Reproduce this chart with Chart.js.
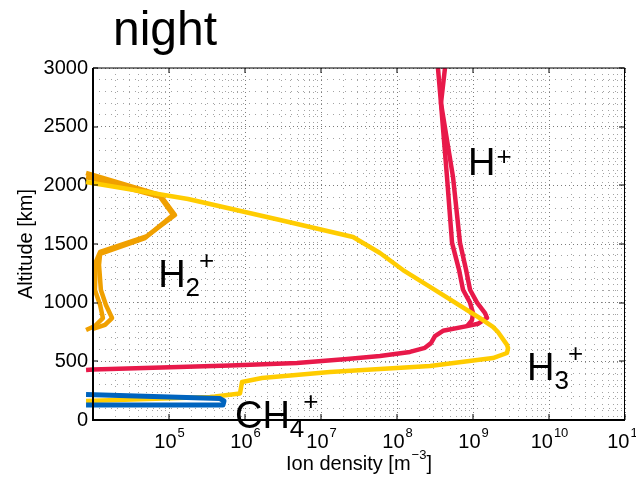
<!DOCTYPE html>
<html><head><meta charset="utf-8">
<script src="https://cdn.jsdelivr.net/npm/chart.js@4.4.0/dist/chart.umd.min.js"></script>
<style>html,body{margin:0;padding:0;background:#fff;overflow:hidden}</style>
</head><body>
<canvas id="c" width="636" height="480"></canvas>
<script>
// ---------- data (density m^-3, altitude km) ----------
const hPlusA_density = [3.46e8,3.79e8,5.46e8,6.74e8,8.1e8,9.14e8,1.13e9,1.44e9,1.53e9,1.16e9,8.34e8,4.03e8,3.16e8,2.80e8,2.33e8,1.48e8,5.97e7,2.20e7,4.83e6,6.35e5,1e4,8.1e3];
const hPlusA_alt     = [3000,2700,2070,1510,1280,1110,1000,910,870,820,800,760,715,655,615,580,545,520,485,465,430,426];
const hPlusB_density = [4.28e8,3.79e8,4.55e8,5.30e8,6.55e8,7.39e8,9.14e8,1.0e9,9.7e8,8.34e8];
const hPlusB_alt     = [3000,2700,2070,1510,1280,1110,1000,910,850,800];
const h3Plus_density = [8.1e3,3.46e5,4.03e5,8.6e5,9.14e5,1.67e6,1.31e7,2.72e8,1.83e9,2.80e9,2.89e9,2.80e9,2.13e9,1.83e9,1.35e9,2.72e8,1.20e8,5.97e7,2.64e7,2.89e6,1.78e5,8.1e3];
const h3Plus_alt     = [162,196,200,226,324,358,409,460,528,571,614,640,750,793,852,1134,1278,1423,1560,1705,1884,2028];
const h2PlusA_density = [8.1e3,7.62e4,1.20e5,5.14e4,1.24e4,1.09e4,1.06e4,1.24e4,1.35e4,1.06e4,8.1e3];
const h2PlusA_alt     = [2105,1918,1747,1568,1432,1347,1108,980,869,801,767];
const h2PlusB_density = [8.1e3,7.62e4,1.13e5,4.83e4,1.24e4,1.20e4,1.27e4,1.48e4,1.78e4,1.44e4,1e4];
const h2PlusB_alt     = [2071,1901,1747,1551,1415,1321,1108,980,869,810,776];
const ch4Plus_density = [8.1e3,4.69e5,5.3e5,5.14e5,8.1e3];
const ch4Plus_alt     = [217,183,162,128,128];

const xDecades = [4,5,6,7,8,9,10,11];
const xLabelExponents = [5,6,7,8,9,10,11];
const yLabelValues = [0,500,1000,1500,2000,2500,3000];

// ion labels: anchor in data coordinates; parts = [text, kind]
const ionLabels = [
  {x:8.6e8,  y:2088, parts:[['H','main'],['+','sup']]},
  {x:7.2e4,  y:1134, parts:[['H','main'],['2','sub'],['+','sup2']]},
  {x:5.14e9, y:341,  parts:[['H','main'],['3','sub'],['+','sup2']]},
  {x:7.38e5, y:-68,  parts:[['CH','main'],['4','sub'],['+','sup2']]}
];

const pts = (xs, ys) => xs.map((v,i)=>({x:v, y:ys[i]}));
const FONT = "'Liberation Sans', Arial, Helvetica, sans-serif";
const RED='#E8194A', YEL='#FFCC00', ORA='#F0A000', BLU='#0064BE';

const xTickValues = [];
xDecades.forEach(e => { if (e < 11) { for (let m=1;m<=9;m++) xTickValues.push(m*Math.pow(10,e)); } else xTickValues.push(Math.pow(10,e)); });
const isPow10 = v => Math.abs(Math.log10(v) - Math.round(Math.log10(v))) < 1e-9;

function ds(data, color, width, order){
  return {data, borderColor:color, borderWidth:width, showLine:true, pointRadius:0, pointHoverRadius:0,
    fill:false, tension:0, borderJoinStyle:'round', borderCapStyle:'butt', order,
    clip:{left:8, top:0, right:0, bottom:0}};
}

const deco = {
  id:'deco',
  afterDraw(chart){
    const {ctx, chartArea:a, scales:{x,y}} = chart;
    ctx.save();
    ctx.fillStyle='#000';
    // box
    ctx.fillRect(a.left-1, a.top, 2, a.bottom-a.top+1);
    ctx.fillRect(a.left-1, a.bottom-1, a.right-a.left+1, 2);
    ctx.fillRect(a.left, a.top-0.5, a.right-a.left, 1);
    ctx.fillRect(a.right-1, a.top, 1, a.bottom-a.top);
    // major ticks (inward)
    xDecades.forEach(e => {
      const px = Math.round(x.getPixelForValue(Math.pow(10,e)));
      ctx.fillRect(px-0.5, a.bottom-6, 1, 6);
      ctx.fillRect(px-0.5, a.top, 1, 5);
    });
    yLabelValues.forEach(v => {
      const py = Math.round(y.getPixelForValue(v));
      ctx.fillRect(a.left, py-0.5, 5, 1);
      ctx.fillRect(a.right-6, py-0.5, 5, 1);
    });
    // x tick labels 10^n
    ctx.textBaseline='alphabetic';
    ctx.textAlign='left';
    xLabelExponents.forEach(e => {
      const px = x.getPixelForValue(Math.pow(10,e));
      ctx.font = '20px '+FONT; const w1 = ctx.measureText('10').width;
      ctx.font = '13px '+FONT; const w2 = ctx.measureText(String(e)).width;
      const s = px - (w1+w2)/2;
      ctx.font = '20px '+FONT; ctx.fillText('10', s, 448);
      ctx.font = '13px '+FONT; ctx.fillText(String(e), s+w1+1, 437);
    });
    // x axis title
    const cx = (a.left+a.right)/2;
    ctx.font='20px '+FONT;
    const t1='Ion density [m', t3=']';
    ctx.font='13px '+FONT; const wsup = ctx.measureText('\u22123').width;
    ctx.font='20px '+FONT;
    const wt1 = ctx.measureText(t1).width, wt3 = ctx.measureText(t3).width;
    let sx = cx - (wt1+wsup+wt3+1)/2;
    ctx.fillText(t1, sx, 470);
    ctx.font='13px '+FONT; ctx.fillText('\u22123', sx+wt1+1, 459);
    ctx.font='20px '+FONT; ctx.fillText(t3, sx+wt1+wsup+1, 470);
    // y axis title
    ctx.save();
    ctx.translate(32, (a.top+a.bottom)/2);
    ctx.rotate(-Math.PI/2);
    ctx.textAlign='center';
    ctx.font='20px '+FONT;
    ctx.fillText('Altitude [km]', 0, 0);
    ctx.restore();
    // title
    ctx.font='48px '+FONT;
    ctx.fillText('night', a.left+20, a.top-23);
    // ion labels
    ionLabels.forEach(L => {
      let px = x.getPixelForValue(L.x), py = y.getPixelForValue(L.y);
      L.parts.forEach(([t,k]) => {
        if (k==='main'){ ctx.font='38px '+FONT; ctx.fillText(t, px, py); px += ctx.measureText(t).width; }
        else if (k==='sub'){ ctx.font='26px '+FONT; ctx.fillText(t, px, py+9); px += ctx.measureText(t).width-1; }
        else if (k==='sup'){ ctx.font='26px '+FONT; ctx.fillText(t, px+1, py-10); }
        else { ctx.font='26px '+FONT; ctx.fillText(t, px, py-18); }
      });
    });
    ctx.restore();
  }
};

new Chart(document.getElementById('c'), {
  type:'scatter',
  data:{datasets:[
    ds(pts(ch4Plus_density, ch4Plus_alt), BLU, 5, 0),
    ds(pts(h3Plus_density, h3Plus_alt), YEL, 4.5, 1),
    ds(pts(hPlusA_density, hPlusA_alt), RED, 4.5, 2),
    ds(pts(hPlusB_density, hPlusB_alt), RED, 4.5, 2),
    ds(pts(h2PlusA_density, h2PlusA_alt), ORA, 4.5, 3),
    ds(pts(h2PlusB_density, h2PlusB_alt), ORA, 4.5, 3)
  ]},
  options:{
    responsive:false, animation:false, devicePixelRatio:1,
    layout:{padding:{top:68, right:11, left:0, bottom:0}},
    plugins:{legend:{display:false}, tooltip:{enabled:false}, title:{display:false}},
    scales:{
      x:{type:'logarithmic', min:1e4, max:1e11,
        afterBuildTicks: s => { s.ticks = xTickValues.map(v=>({value:v, major:isPow10(v)})); },
        afterFit: s => { s.height = 60; },
        ticks:{display:false},
        grid:{drawTicks:false, lineWidth:1, color: c => (c.tick && isPow10(c.tick.value)) ? 'rgba(110,110,110,0.9)' : 'rgba(140,140,140,0.8)'},
        border:{display:false, dash: c => (c.tick && isPow10(c.tick.value)) ? [1,3] : [1,5]}
      },
      y:{type:'linear', min:0, max:3000,
        afterFit: s => { s.width = 93; },
        ticks:{stepSize:100, autoSkip:false, padding:5, color:'#000', font:{family:FONT, size:20},
          callback: v => (v % 500 === 0) ? String(v) : ''},
        grid:{drawTicks:false, lineWidth:1, color: c => (c.tick && c.tick.value % 500 === 0) ? 'rgba(110,110,110,0.9)' : 'rgba(140,140,140,0.8)'},
        border:{display:false, dash: c => (c.tick && c.tick.value % 500 === 0) ? [1,3] : [1,5]}
      }
    }
  },
  plugins:[deco]
});
</script>
</body></html>
